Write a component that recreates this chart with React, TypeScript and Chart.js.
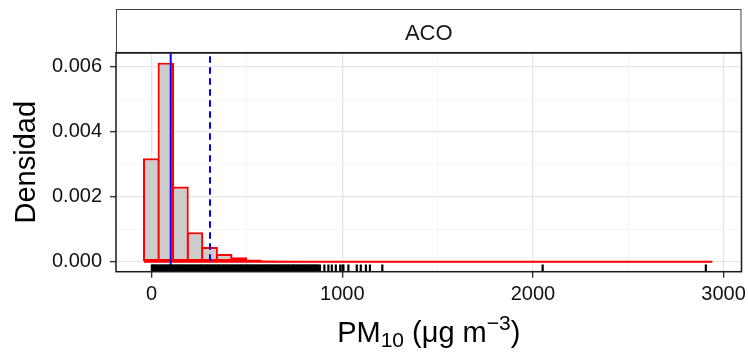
import React, { useEffect, useRef } from "react";
import { Chart, registerables } from "chart.js";

Chart.register(...registerables);

// ---- data ----
const PANEL_LABEL = "ACO";
const Y_TITLE = "Densidad";
const BIN_START = -40;
const BIN_WIDTH = 76.4;
const densities = [
  0.00318, 0.00612, 0.00231, 0.000905, 0.00046, 0.00024, 0.000135, 0.00007,
  0.00004, 0.000028, 0.000018, 0.000012, 0.000008, 0.000004, 0.000004, 0.000002,
  0, 0, 0, 0, 0, 0, 0, 0, 0, 0, 0, 0.000001, 0, 0, 0, 0, 0, 0, 0, 0, 0, 0, 0.000001,
];
const medianValue = 100;
const meanValue = 306;
const rugValues = [
  1, 6, 12, 18, 25, 31, 37, 44, 50, 56, 63, 69, 75, 82, 88, 94, 101, 107, 113, 120,
  126, 132, 139, 145, 151, 158, 164, 170, 177, 183, 189, 196, 202, 208, 215, 221,
  227, 234, 240, 246, 253, 259, 265, 272, 278, 284, 291, 297, 303, 310, 316, 322,
  329, 335, 341, 348, 354, 360, 367, 373, 379, 386, 392, 398, 405, 411, 417, 424,
  430, 436, 443, 449, 455, 462, 468, 474, 481, 487, 493, 500, 506, 512, 519, 525,
  531, 538, 544, 550, 557, 563, 569, 576, 582, 588, 595, 601, 607, 614, 620, 626,
  633, 639, 645, 652, 658, 664, 671, 677, 683, 690, 696, 702, 709, 715, 721, 728,
  734, 741, 747, 753, 760, 766, 772, 779, 785, 791, 798, 804, 811, 817, 823, 830,
  836, 843, 849, 855, 862, 868, 874, 883, 906, 927, 945, 966, 989, 1001, 1006,
  1032, 1076, 1097, 1124, 1145, 1210, 2051, 2907,
];
const xGridValues = [0, 500, 1000, 1500, 2000, 2500, 3000];
const xTickValues = [0, 1000, 2000, 3000];
const xTickLabels = ["0", "1000", "2000", "3000"];
const yGridValues = [0, 0.001, 0.002, 0.003, 0.004, 0.005, 0.006];
const yTickValues = [0, 0.002, 0.004, 0.006];
const yTickLabels = ["0.000", "0.002", "0.004", "0.006"];
const X_MIN = -187;
const X_MAX = 3094;
const Y_MIN = -0.000306;
const Y_MAX = 0.006426;
const RUG_Y = -0.000195;

const FONT = '"Liberation Sans", Arial, Helvetica, sans-serif';

function labelFor(v: number, vals: number[], labels: string[]) {
  for (let i = 0; i < vals.length; i++) {
    if (Math.abs(v - vals[i]) < 1e-9) return labels[i];
  }
  return "";
}
function isMajor(v: number, vals: number[]) {
  return vals.some((t) => Math.abs(v - t) < 1e-9);
}

const decorPlugin = {
  id: "decor",
  afterDraw(chart: any) {
    const { ctx, chartArea: a } = chart;
    ctx.save();
    // strip
    const stripTop = 9;
    ctx.fillStyle = "#ffffff";
    ctx.fillRect(a.left, stripTop, a.right - a.left, a.top - stripTop);
    ctx.strokeStyle = "#444444";
    ctx.lineWidth = 1;
    ctx.strokeRect(a.left + 0.5, stripTop + 0.5, a.right - a.left - 1, a.top - stripTop);
    ctx.fillStyle = "#1a1a1a";
    ctx.font = `22px ${FONT}`;
    ctx.textAlign = "center";
    ctx.textBaseline = "alphabetic";
    ctx.fillText(PANEL_LABEL, (a.left + a.right) / 2, 39.5);
    // panel border
    ctx.strokeStyle = "#1a1a1a";
    ctx.lineWidth = 1.5;
    ctx.strokeRect(a.left, a.top, a.right - a.left, a.bottom - a.top);
    // x title with sub/superscript
    const parts: [string, number, number][] = [
      ["PM", 29, 0],
      ["10", 21, 5],
      [" (\u03bcg m", 29, 0],
      ["\u22123", 21, -12],
      [")", 29, 0],
    ];
    let total = 0;
    const widths = parts.map(([t, s]) => {
      ctx.font = `${s}px ${FONT}`;
      const w = ctx.measureText(t).width;
      total += w;
      return w;
    });
    let x = (a.left + a.right) / 2 - total / 2;
    const baseY = 342;
    ctx.textAlign = "left";
    ctx.fillStyle = "#000000";
    parts.forEach(([t, s, dy], i) => {
      ctx.font = `${s}px ${FONT}`;
      ctx.fillText(t, x, baseY + dy);
      x += widths[i];
    });
    // x tick labels (drawn through the x scale)
    const xs = chart.scales.x;
    ctx.font = `20px ${FONT}`;
    ctx.fillStyle = "#111111";
    ctx.textAlign = "center";
    ctx.textBaseline = "alphabetic";
    xTickValues.forEach((v, i) => {
      ctx.fillText(xTickLabels[i], xs.getPixelForValue(v), a.bottom + 28.5);
    });
    ctx.restore();
  },
};

export default function App() {
  const ref = useRef<HTMLCanvasElement | null>(null);
  useEffect(() => {
    if (!ref.current) return;
    const barData = densities.map((d, i) => ({ x: BIN_START + (i + 0.5) * BIN_WIDTH, y: d }));
    const chart = new Chart(ref.current, {
      type: "bar",
      data: {
        datasets: [
          {
            type: "bar",
            data: barData as any,
            backgroundColor: "#cccccc",
            borderColor: "#ff0000",
            borderWidth: 2.2,
            borderSkipped: false,
            barPercentage: 1.14,
            categoryPercentage: 1,
            inflateAmount: 0,
            order: 4,
          } as any,
          {
            type: "line",
            data: [
              { x: BIN_START, y: 0 },
              { x: BIN_START + densities.length * BIN_WIDTH, y: 0 },
            ],
            borderColor: "#ff0000",
            borderWidth: 2.2,
            pointRadius: 0,
            order: 3,
          } as any,
          {
            type: "line",
            data: [
              { x: medianValue, y: Y_MIN },
              { x: medianValue, y: Y_MAX },
            ],
            borderColor: "#0000ff",
            borderWidth: 2,
            pointRadius: 0,
            order: 2,
          } as any,
          {
            type: "line",
            data: [
              { x: meanValue, y: Y_MIN },
              { x: meanValue, y: Y_MAX },
            ],
            borderColor: "#0000ff",
            borderWidth: 2,
            borderDash: [6.5, 4.5],
            pointRadius: 0,
            order: 2,
          } as any,
          {
            type: "scatter",
            data: rugValues.map((v) => ({ x: v, y: RUG_Y })),
            pointStyle: "line",
            pointRotation: 90,
            pointRadius: 3.7,
            pointBorderWidth: 2.2,
            borderWidth: 2.2,
            pointBorderColor: "#000000",
            borderColor: "#000000",
            pointBackgroundColor: "#000000",
            showLine: false,
            order: 1,
          } as any,
        ],
      },
      options: {
        responsive: false,
        animation: false,
        events: [],
        layout: { padding: { top: 52.7, right: 6.5, left: 0, bottom: 0 } },
        plugins: { legend: { display: false }, tooltip: { enabled: false } },
        scales: {
          x: {
            type: "linear",
            min: X_MIN,
            max: X_MAX,
            offset: false,
            border: { display: false },
            afterBuildTicks: (s: any) => {
              s.ticks = xGridValues.map((v) => ({ value: v }));
            },
            grid: {
              offset: false,
              color: (c: any) => (isMajor(c.tick?.value, xTickValues) ? "#e6e6e6" : "#f2f2f2"),
              lineWidth: (c: any) => (isMajor(c.tick?.value, xTickValues) ? 1.3 : 0.8),
              tickColor: (c: any) => (isMajor(c.tick?.value, xTickValues) ? "#333333" : "rgba(0,0,0,0)"),
              tickWidth: 1.4,
              tickLength: 6,
            },
            ticks: {
              display: false,
              autoSkip: false,
              maxRotation: 0,
            },
            afterFit: (s: any) => {
              s.height = 81.3;
            },
          },
          y: {
            type: "linear",
            min: Y_MIN,
            max: Y_MAX,
            border: { display: false },
            afterBuildTicks: (s: any) => {
              s.ticks = yGridValues.map((v) => ({ value: v }));
            },
            grid: {
              color: (c: any) => (isMajor(c.tick?.value, yTickValues) ? "#e6e6e6" : "#f2f2f2"),
              lineWidth: (c: any) => (isMajor(c.tick?.value, yTickValues) ? 1.3 : 0.8),
              tickColor: (c: any) => (isMajor(c.tick?.value, yTickValues) ? "#333333" : "rgba(0,0,0,0)"),
              tickWidth: 1.4,
              tickLength: 6,
            },
            ticks: {
              autoSkip: false,
              padding: 8,
              color: "#111111",
              font: { family: FONT, size: 20 },
              callback: (v: any) => labelFor(Number(v), yTickValues, yTickLabels),
            },
            title: {
              display: true,
              text: Y_TITLE,
              color: "#000000",
              font: { family: FONT, size: 29 },
              padding: { top: 10, bottom: 0 },
            },
            afterFit: (s: any) => {
              s.width = 116;
            },
          },
        },
      },
      plugins: [decorPlugin],
    });
    return () => chart.destroy();
  }, []);
  return (
    <div style={{ position: "absolute", left: 0, top: 0, width: 748, height: 353, background: "#fff" }}>
      <canvas ref={ref} width={748} height={353} style={{ display: "block" }} />
    </div>
  );
}
